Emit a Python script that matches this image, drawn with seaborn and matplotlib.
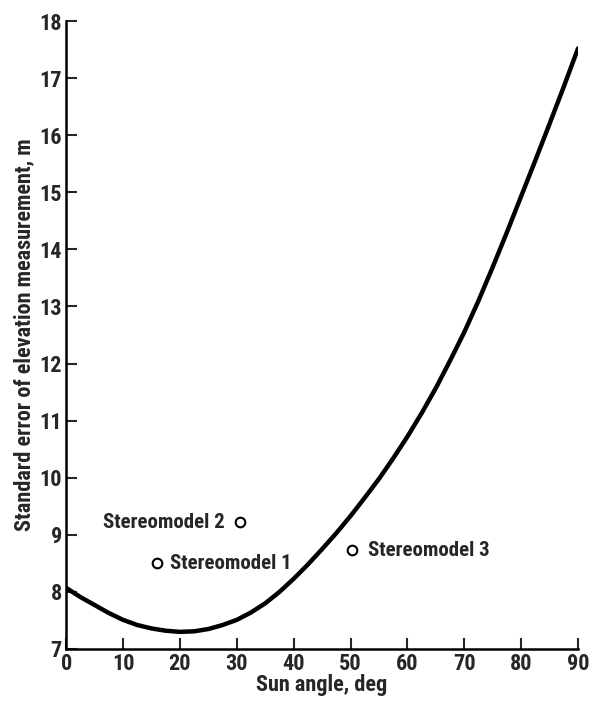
import matplotlib
matplotlib.use("Agg")
import matplotlib.pyplot as plt
import pandas as pd
import seaborn as sns

# curve
sun_angle = [0, 2.5, 5, 7.5, 10, 12.5, 15, 17.5, 20, 22.5, 25, 27.5, 30, 32.5, 35, 37.5, 40, 42.5, 45,
             47.5, 50, 52.5, 55, 57.5, 60, 62.5, 65, 67.5, 70, 72.5, 75, 77.5, 80, 82.5, 85, 87.5, 90]
std_error = [8.07, 7.91, 7.77, 7.63, 7.51, 7.42, 7.36, 7.32, 7.3, 7.31, 7.35, 7.42, 7.51, 7.64, 7.8, 8.0, 8.23, 8.48, 8.75,
             9.03, 9.33, 9.65, 9.98, 10.34, 10.72, 11.13, 11.57, 12.05, 12.55, 13.1, 13.69, 14.3, 14.93, 15.56, 16.2, 16.85, 17.52]

# measured stereomodels
model_names = ["Stereomodel 1", "Stereomodel 2", "Stereomodel 3"]
model_angle = [16, 30.5, 50.2]
model_error = [8.5, 9.22, 8.73]

curve = pd.DataFrame({"angle": sun_angle, "error": std_error})
models = pd.DataFrame({"name": model_names, "angle": model_angle, "error": model_error})

sns.set_style("ticks")
plt.rcParams["font.family"] = ["Liberation Sans Narrow", "Roboto Condensed", "DejaVu Sans Condensed",
                               "Open Sans Condensed", "DejaVu Sans"]
plt.rcParams["font.stretch"] = "condensed"

fig = plt.figure(figsize=(5.91, 7.02), dpi=100)
ax = fig.add_axes([0.112, 0.0755, 0.866, 0.8945])

sns.lineplot(data=curve, x="angle", y="error", color="black", linewidth=3.2, ax=ax)
sns.scatterplot(data=models, x="angle", y="error", marker="o", s=48,
                facecolor="white", edgecolor="black", linewidth=1.5, ax=ax, zorder=3)

# labels next to the markers
offsets = {"Stereomodel 1": (2.2, "left"), "Stereomodel 2": (-2.6, "right"), "Stereomodel 3": (2.8, "left")}
for _, r in models.iterrows():
    dx, ha = offsets[r["name"]]
    ax.text(r["angle"] + dx, r["error"], r["name"], ha=ha, va="center",
            fontsize=15, fontweight="bold")

ax.set_xlim(0, 90)
ax.set_ylim(7, 18)
ax.set_xticks(range(0, 91, 10))
ax.set_yticks(range(7, 19))
ax.tick_params(direction="in", length=8, width=1.5, labelsize=16, pad=3)
for lab in ax.get_xticklabels() + ax.get_yticklabels():
    lab.set_fontweight("bold")
sns.despine(ax=ax)
for s in ["left", "bottom"]:
    ax.spines[s].set_linewidth(1.8)
    ax.spines[s].set_color("black")

ax.set_xlabel("Sun angle, deg", fontsize=16, fontweight="bold", labelpad=-1)
ax.set_ylabel("Standard error of elevation measurement, m", fontsize=16, fontweight="bold", labelpad=3)

fig.savefig("out.png", dpi=100, facecolor="white")
